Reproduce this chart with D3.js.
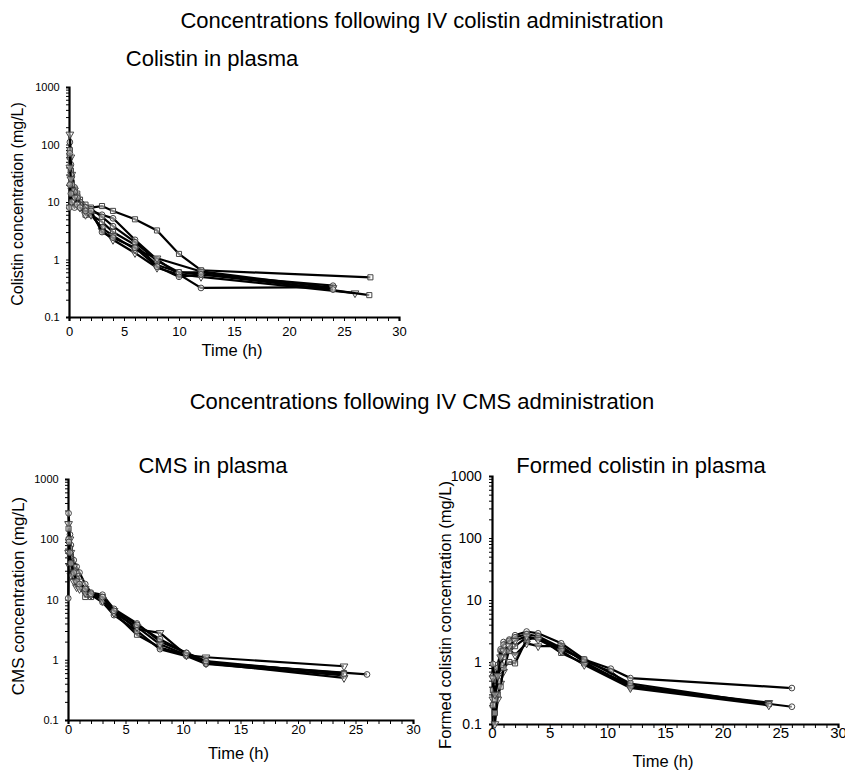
<!DOCTYPE html>
<html>
<head>
<meta charset="utf-8">
<script src="https://cdn.jsdelivr.net/npm/d3@7"></script>
<style>
  body { margin: 0; background: #fff; }
  text { font-family: "Liberation Sans", Arial, sans-serif; fill: #000; }
</style>
</head>
<body>
<div id="chart"></div>
<script>
// chart size
const width = 845;
const height = 770;

// tick labels
const yTicks = [0.1, 1, 10, 100, 1000];
const xTicks = [0, 5, 10, 15, 20, 25, 30];

// Colistin in plasma after IV colistin (time h, mg/L)
const colA1 = [[0.08,60],[0.17,35],[0.25,22],[0.5,17],[0.75,14],[1,11],[1.5,9],[2,8],[3,8.5],[4,7],[6,5],[8,3.2],[10,1.25],[12,0.65],[27.4,0.49]];
const colA2 = [[0.08,110],[0.17,45],[0.25,28],[0.5,18],[0.75,13],[1,10],[1.5,8],[2,7],[3,6],[4,5.2],[6,2.2],[8,1],[10,0.55],[12,0.32],[24,0.33]];
const colA3 = [[0.08,150],[0.17,60],[0.25,30],[0.5,16],[0.75,11],[1,9],[1.5,7],[2,6.5],[3,3.2],[4,2.2],[6,1.3],[8,0.72],[10,0.55],[12,0.5],[26,0.26]];
const colA4 = [[0.08,80],[0.17,35],[0.25,20],[0.5,14],[0.75,10],[1,8.5],[1.5,6],[2,6],[3,4.5],[4,3],[6,1.8],[8,0.8],[10,0.6],[12,0.6],[27.3,0.24]];
const colA5 = [[0.08,70],[0.17,30],[0.25,20],[0.5,15],[0.75,12],[1,9],[1.5,8],[2,7.5],[3,5.5],[4,3.8],[6,2],[8,0.95],[10,0.6],[12,0.55],[24,0.35]];
const colA6 = [[0.08,40],[0.17,25],[0.25,16],[0.5,12],[0.75,9],[1,8],[1.5,6],[2,6],[3,3.5],[4,2.6],[6,1.5],[8,1.05],[12,0.62],[24,0.32]];
const colA7 = [[0.03,8],[0.08,20],[0.17,14],[0.25,10],[0.5,8],[0.75,9],[1,8],[1.5,7],[2,7],[3,3],[4,2.4],[6,1.6],[8,0.75],[10,0.5],[12,0.55],[24,0.3]];

// CMS in plasma after IV CMS
const cmsB1 = [[0.05,270],[0.17,120],[0.25,80],[0.5,45],[0.75,35],[1,28],[1.5,18],[2,13],[3,12],[4,7],[6,4],[8,2],[10.3,1.3],[12,0.9],[26,0.57]];
const cmsB2 = [[0.05,180],[0.17,100],[0.25,60],[0.5,35],[0.75,25],[1,20],[1.5,15],[2,12],[3,10],[4,6.5],[6,3.2],[8,2.8],[10.3,1.2],[12,1.1],[24,0.78]];
const cmsB3 = [[0.05,150],[0.17,70],[0.25,50],[0.5,30],[0.75,22],[1,17],[1.5,11],[2,11],[3,11],[4,6],[6,2.6],[8,1.6],[10.3,1.2],[12,0.9],[24,0.6]];
const cmsB4 = [[0.05,100],[0.17,50],[0.25,35],[0.5,25],[0.75,18],[1,16],[1.5,14],[2,12],[3,9],[4,5.5],[6,3],[8,1.5],[10.3,1.15],[12,0.85],[24,0.55]];
const cmsB5 = [[0.05,60],[0.17,35],[0.25,25],[0.5,20],[0.75,16],[1,15],[1.5,13],[2,12],[3,9.5],[4,6],[6,3.5],[8,1.8],[10.3,1.2],[12,0.88],[24,0.5]];
const cmsB6 = [[0.02,10.5],[0.08,90],[0.17,60],[0.25,40],[0.5,28],[0.75,20],[1,18],[1.5,15],[2,12.5],[3,11],[4,6.5],[6,3.8],[8,2.2],[10.3,1.3],[12,0.95],[24,0.58]];

// Formed colistin in plasma after IV CMS
const fcC1 = [[0.08,0.6],[0.25,0.5],[0.5,0.9],[0.75,1.5],[1,2.1],[1.5,2.3],[2,2.7],[3,3.1],[4,2.9],[6,2.0],[8,1.1],[10.3,0.78],[12,0.55],[26,0.38]];
const fcC2 = [[0.08,0.25],[0.25,0.1],[0.5,0.25],[0.75,0.45],[1,0.7],[1.5,1.6],[2,1.3],[3,2.0],[4,1.8],[6,1.8],[8,1.0],[12,0.4],[24,0.22]];
const fcC3 = [[0.08,0.2],[0.25,0.15],[0.5,0.3],[0.75,0.4],[1,0.8],[1.5,1.0],[2,0.95],[3,2.3],[4,2.5],[6,1.4],[8,0.95],[12,0.42],[24,0.21]];
const fcC4 = [[0.08,0.93],[0.25,0.5],[0.5,0.8],[0.75,1.6],[1,1.9],[1.5,2.2],[2,2.5],[3,2.8],[4,2.6],[6,1.7],[8,1.05],[10.3,0.7],[12,0.4],[26,0.19]];
const fcC5 = [[0.08,0.35],[0.25,0.25],[0.5,0.5],[0.75,0.9],[1,1.2],[1.5,1.5],[2,1.8],[3,2.5],[4,2.4],[6,1.6],[8,1.1],[12,0.45],[24,0.21]];
const fcC6 = [[0.08,0.55],[0.25,0.3],[0.5,0.6],[0.75,1.2],[1,1.5],[1.5,1.8],[2,2.2],[3,2.6],[4,2.3],[6,1.5],[8,0.9],[12,0.38],[24,0.2]];

// marker per subject: c = circle, s = square, v = triangle down
const colMarks = ["s", "c", "v", "s", "c", "v", "c"];
const cmsMarks = ["c", "v", "s", "c", "v", "c"];
const fcMarks = ["c", "v", "s", "c", "s", "v"];
const symbolOf = { c: d3.symbolCircle, s: d3.symbolSquare, v: d3.symbolTriangle };

const svg = d3.select("#chart").append("svg")
    .attr("width", width)
    .attr("height", height);

// titles
svg.append("text").attr("x", 422).attr("y", 28).attr("text-anchor", "middle")
    .style("font-size", "22px").text("Concentrations following IV colistin administration");
svg.append("text").attr("x", 422).attr("y", 409).attr("text-anchor", "middle")
    .style("font-size", "22px").text("Concentrations following IV CMS administration");

function drawPanel(p) {
    const x = d3.scaleLinear().domain([0, 30]).range([p.x0, p.x1]);
    const y = d3.scaleLog().domain([0.1, 1000]).range([p.y1, p.y0]);
    const g = svg.append("g");

    g.append("text").attr("x", p.tx).attr("y", p.ty).attr("text-anchor", "middle")
        .style("font-size", "22px").text(p.title);

    // x axis
    const xa = g.append("g").attr("transform", `translate(0,${p.y1})`)
        .call(d3.axisBottom(x).tickValues(d3.range(0, 31, 1)).tickSize(4)
            .tickFormat(d => xTicks.includes(d) ? d : ""));
    xa.select(".domain").attr("stroke-width", 2.2);
    xa.selectAll("text").attr("dy", p.xdy).style("font-size", p.fx + "px")
        .style("font-family", "Liberation Sans, Arial, sans-serif");

    // y axis with log minor ticks
    const minor = [];
    for (let e = -1; e < 3; e++) for (let k = 1; k < 10; k++) minor.push(k * Math.pow(10, e));
    minor.push(1000);
    const ya = g.append("g").attr("transform", `translate(${p.x0},0)`)
        .call(d3.axisLeft(y).tickValues(minor).tickSize(3)
            .tickFormat(d => yTicks.includes(d) ? (d < 1 ? "0.1" : d3.format("d")(d)) : ""));
    ya.select(".domain").attr("stroke-width", 2.2);
    ya.selectAll("text").attr("dx", "-0.3em").style("font-size", p.fy + "px")
        .style("font-family", "Liberation Sans, Arial, sans-serif");

    g.append("text").attr("x", (p.x0 + p.x1) / 2 - 2).attr("y", p.xly).attr("text-anchor", "middle")
        .style("font-size", "16.5px").text("Time (h)");
    g.append("text").attr("transform", `translate(${p.ylx},${p.yly}) rotate(-90)`)
        .attr("text-anchor", "middle").style("font-size", p.ylf + "px").text(p.ylabel);

    const line = d3.line().x(d => x(d[0])).y(d => y(d[1]));
    p.series.forEach((s, i) => {
        g.append("path").datum(s).attr("d", line)
            .attr("fill", "none").attr("stroke", "#000").attr("stroke-width", 2.2);
        const m = p.marks[i];
        g.selectAll(null).data(s).enter().append("path")
            .attr("transform", d => `translate(${x(d[0])},${y(d[1])})${m === "v" ? " rotate(180)" : ""}`)
            .attr("d", d3.symbol().type(symbolOf[m]).size(26))
            .attr("fill", "#fff").attr("fill-opacity", 0.5)
            .attr("stroke", "#444").attr("stroke-width", 1);
    });
}

drawPanel({
    x0: 69, x1: 399, y0: 87, y1: 317, tx: 212, ty: 66, title: "Colistin in plasma",
    fx: 13, fy: 11, xdy: "0.9em", xly: 356, ylx: 23, yly: 204, ylf: 16,
    ylabel: "Colistin concentration (mg/L)",
    series: [colA1, colA2, colA3, colA4, colA5, colA6, colA7], marks: colMarks
});
drawPanel({
    x0: 68, x1: 413, y0: 479, y1: 720, tx: 213, ty: 473, title: "CMS in plasma",
    fx: 13, fy: 11, xdy: "0.5em", xly: 759, ylx: 24, yly: 596, ylf: 17,
    ylabel: "CMS concentration (mg/L)",
    series: [cmsB1, cmsB2, cmsB3, cmsB4, cmsB5, cmsB6], marks: cmsMarks
});
drawPanel({
    x0: 492, x1: 838, y0: 476, y1: 724, tx: 641, ty: 473, title: "Formed colistin in plasma",
    fx: 15, fy: 14, xdy: "0.45em", xly: 767, ylx: 451, yly: 615, ylf: 16.5,
    ylabel: "Formed colistin concentration (mg/L)",
    series: [fcC1, fcC2, fcC3, fcC4, fcC5, fcC6], marks: fcMarks
});
</script>
</body>
</html>
